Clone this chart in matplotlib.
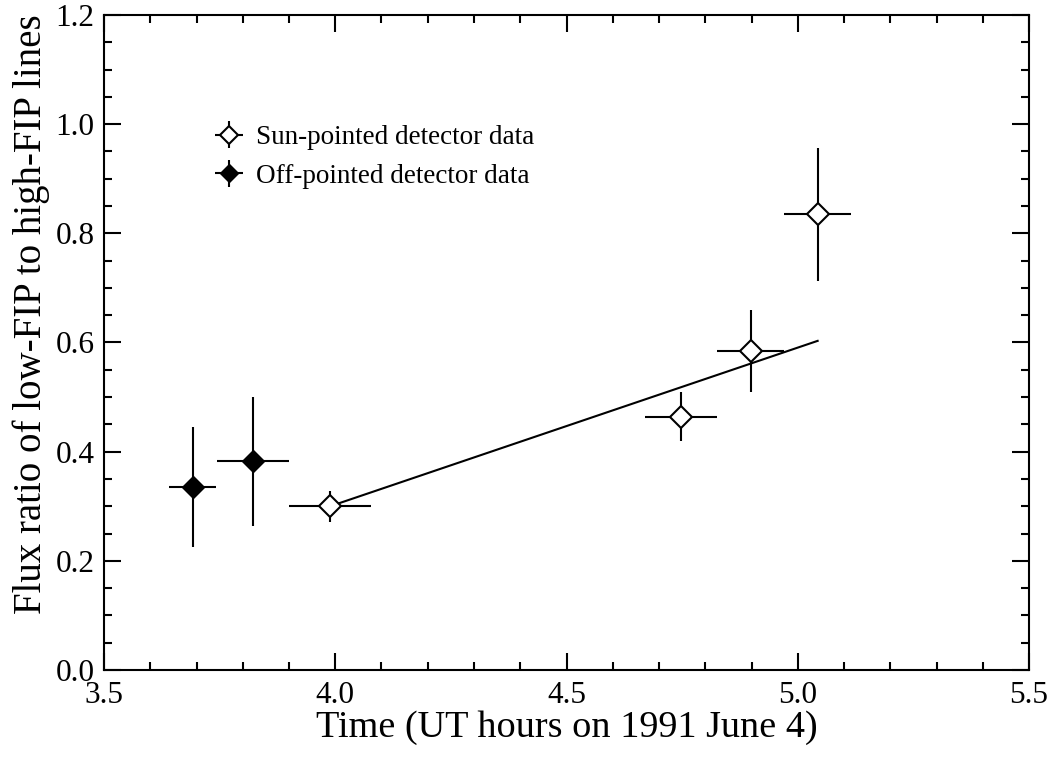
import matplotlib
matplotlib.use("Agg")
import matplotlib.pyplot as plt
from matplotlib.ticker import MultipleLocator, FormatStrFormatter

plt.rcParams['font.family'] = ['Liberation Serif', 'DejaVu Serif']

# Sun-pointed detector data
sun_x = [3.989, 4.747, 4.898, 5.043]
sun_y = [0.300, 0.464, 0.584, 0.835]
sun_xerr = [0.088, 0.078, 0.073, 0.073]
sun_yerr = [0.028, 0.045, 0.075, 0.122]

# Off-pointed detector data
off_x = [3.692, 3.822]
off_y = [0.335, 0.382]
off_xerr = [0.051, 0.077]
off_yerr = [0.110, 0.118]

# Linear fit line endpoints
fit_x = [3.989, 5.043]
fit_y = [0.300, 0.603]

W, H = 1052, 763
fig = plt.figure(figsize=(W/100, H/100), dpi=100)
ax = fig.add_axes([104/W, 1 - 670/H, (1029-104)/W, (670-15)/H])

lw = 1.5
ax.plot(fit_x, fit_y, color='black', lw=lw, zorder=2)
ax.errorbar(off_x, off_y, xerr=off_xerr, yerr=off_yerr, fmt='D', color='black',
            mfc='black', mec='black', ms=11, elinewidth=lw, capsize=0, zorder=3,
            label='Off-pointed detector data')
ax.errorbar(sun_x, sun_y, xerr=sun_xerr, yerr=sun_yerr, fmt='D', color='black',
            mfc='white', mec='black', mew=lw, ms=11, elinewidth=lw, capsize=0, zorder=3,
            label='Sun-pointed detector data')

ax.set_xlim(3.5, 5.5)
ax.set_ylim(0.0, 1.2)
ax.xaxis.set_major_locator(MultipleLocator(0.5))
ax.xaxis.set_minor_locator(MultipleLocator(0.1))
ax.yaxis.set_major_locator(MultipleLocator(0.2))
ax.yaxis.set_minor_locator(MultipleLocator(0.05))
ax.xaxis.set_major_formatter(FormatStrFormatter('%.1f'))
ax.yaxis.set_major_formatter(FormatStrFormatter('%.1f'))
ax.tick_params(which='both', direction='in', top=True, right=True, width=1.5, labelsize=22.5)
ax.tick_params(which='major', length=12)
ax.tick_params(axis='x', which='major', pad=8)
ax.tick_params(axis='y', which='major', pad=7)
ax.tick_params(which='minor', length=6)
for s in ax.spines.values():
    s.set_linewidth(1.5)

ax.set_xlabel('Time (UT hours on 1991 June 4)', fontsize=27.5, labelpad=0)
ax.set_ylabel('Flux ratio of low-FIP to high-FIP lines', fontsize=28)
ax.yaxis.set_label_coords((50 - 104) / 925, (670 - 314) / 655)

handles, labels = ax.get_legend_handles_labels()
leg = fig.legend(handles[::-1], labels[::-1], loc='upper left',
                 bbox_to_anchor=(210/W, 1 - 125/H), bbox_transform=fig.transFigure,
                 frameon=False, fontsize=19.5, handlelength=1.4, handletextpad=0.3,
                 labelspacing=0.5, borderpad=0, borderaxespad=0, markerscale=0.85)

fig.savefig('out.png', dpi=100)
